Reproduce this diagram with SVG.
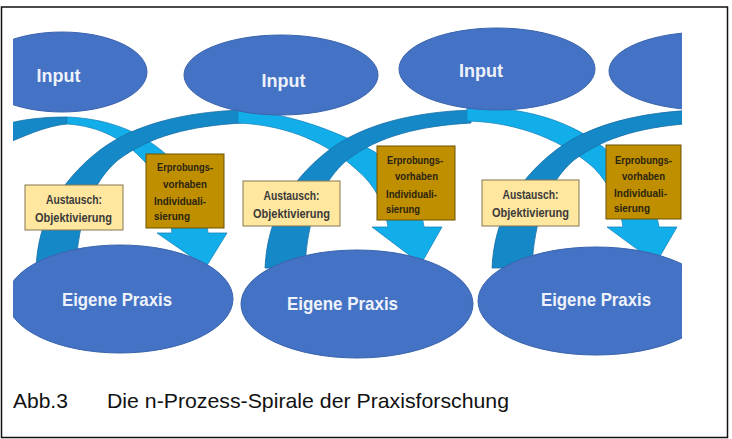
<svg xmlns="http://www.w3.org/2000/svg" width="732" height="439" viewBox="0 0 732 439">
<style>
.ell{fill:#4472c4;stroke:#3b64ad;stroke-width:1}
.elt{font-family:"Liberation Sans",Arial,sans-serif;font-weight:bold;fill:#eef2fa;text-anchor:middle}
.dk{fill:#1588c8;stroke:#166fa6;stroke-width:0.8}
.lt{fill:#12aeea;stroke:#1685bf;stroke-width:0.8}
.aus{fill:#ffe79f;stroke:#857650;stroke-width:1}
.erp{fill:#bf8f00;stroke:#6e5200;stroke-width:1}
.bt{font-family:"Liberation Sans",Arial,sans-serif;font-weight:bold;font-size:12px;fill:#3a3a3a;text-anchor:middle}
.et{font-family:"Liberation Sans",Arial,sans-serif;font-weight:bold;font-size:10px;fill:#2b2410}
.cap{font-family:"Liberation Sans",Arial,sans-serif;font-size:21px;fill:#111}
</style>
<defs>
<clipPath id="pic"><rect x="13" y="0" width="669" height="380"/></clipPath>
</defs>
<rect x="0" y="0" width="732" height="439" fill="#fff"/>
<rect x="1.5" y="7" width="726" height="430.5" fill="none" stroke="#111" stroke-width="1.5"/>
<g clip-path="url(#pic)">
<g id="connectors">
<path class="dk" d="M0,126 C20,119 45,117 67,117 L67,124 C45,126 25,136 0,146 Z"/>
<path class="lt" d="M67,117 C95,118 125,125 150,142 C185,165 205,200 208,233 L227,233 L206,267 L157,233 L172,233 C170,205 160,180 145,162 C125,140 100,126 67,124 Z"/>
<path class="dk" d="M36,268 C38,225 55,185 100,150 C135,124 185,112 242,110 L242,123 C190,126 150,136 118,160 C92,182 78,220 76,268 Z"/>
<path class="lt" d="M238,110 C285,112 335,130 375,152 C405,175 420,200 424,227 L442,227 L421,264 L372,227 L388,227 C385,205 375,185 357,170 C330,145 290,125 238,123 Z"/>
<path class="dk" d="M265,268 C267,225 284,185 329,150 C364,124 414,112 471,110 L471,123 C419,126 379,136 347,160 C321,182 307,220 305,268 Z"/>
<path class="lt" d="M467,108 C515,106 565,117 603,147 C635,172 655,200 659,227 L677,227 L656,263 L607,227 L623,227 C620,205 610,185 594,168 C565,142 520,122 467,121 Z"/>
<path class="dk" d="M492,268 C494,225 511,185 556,150 C591,124 641,112 698,110 L698,123 C646,126 606,136 574,160 C548,182 534,220 532,268 Z"/>
</g>
<g id="input1"><ellipse class="ell" cx="62" cy="72" rx="85" ry="40"/><text class="elt" x="58.5" y="82" font-size="18">Input</text></g>
<g id="input2"><ellipse class="ell" cx="281" cy="75" rx="97" ry="40"/><text class="elt" x="283.5" y="87" font-size="18">Input</text></g>
<g id="input3"><ellipse class="ell" cx="497" cy="69" rx="98" ry="41"/><text class="elt" x="481" y="77" font-size="18">Input</text></g>
<g id="input4"><ellipse class="ell" cx="705" cy="71" rx="96" ry="39"/></g>
<g id="praxis1"><ellipse class="ell" cx="120" cy="299" rx="113" ry="54"/><text class="elt" x="117" y="306" font-size="19" textLength="110" lengthAdjust="spacingAndGlyphs">Eigene Praxis</text></g>
<g id="praxis2"><ellipse class="ell" cx="357" cy="304" rx="116" ry="54"/><text class="elt" x="342.5" y="310" font-size="19" textLength="111" lengthAdjust="spacingAndGlyphs">Eigene Praxis</text></g>
<g id="praxis3"><ellipse class="ell" cx="596" cy="301" rx="118" ry="54"/><text class="elt" x="596" y="306" font-size="19" textLength="110" lengthAdjust="spacingAndGlyphs">Eigene Praxis</text></g>
<g id="austausch1"><rect class="aus" x="25" y="185" width="98" height="45"/><text class="bt" x="74" y="204" textLength="56" lengthAdjust="spacingAndGlyphs">Austausch:</text><text class="bt" x="73.5" y="222" textLength="77" lengthAdjust="spacingAndGlyphs">Objektivierung</text></g>
<g id="austausch2"><rect class="aus" x="243" y="181" width="97" height="45"/><text class="bt" x="291.5" y="200" textLength="56" lengthAdjust="spacingAndGlyphs">Austausch:</text><text class="bt" x="291.5" y="218" textLength="77" lengthAdjust="spacingAndGlyphs">Objektivierung</text></g>
<g id="austausch3"><rect class="aus" x="482" y="180" width="97" height="46"/><text class="bt" x="530.5" y="199" textLength="56" lengthAdjust="spacingAndGlyphs">Austausch:</text><text class="bt" x="530.5" y="217" textLength="77" lengthAdjust="spacingAndGlyphs">Objektivierung</text></g>
<g id="erprobung1"><rect class="erp" x="146" y="154" width="78" height="74"/>
<text class="et" x="157" y="171" textLength="56" lengthAdjust="spacingAndGlyphs">Erprobungs-</text>
<text class="et" x="163" y="188" textLength="44" lengthAdjust="spacingAndGlyphs">vorhaben</text>
<text class="et" x="154" y="205" textLength="52" lengthAdjust="spacingAndGlyphs">Individuali-</text>
<text class="et" x="154" y="220" textLength="36" lengthAdjust="spacingAndGlyphs">sierung</text></g>
<g id="erprobung2"><rect class="erp" x="377" y="146" width="78" height="74"/>
<text class="et" x="387" y="164" textLength="56" lengthAdjust="spacingAndGlyphs">Erprobungs-</text>
<text class="et" x="395" y="180" textLength="43" lengthAdjust="spacingAndGlyphs">vorhaben</text>
<text class="et" x="386" y="198" textLength="51" lengthAdjust="spacingAndGlyphs">Individuali-</text>
<text class="et" x="386" y="213" textLength="34" lengthAdjust="spacingAndGlyphs">sierung</text></g>
<g id="erprobung3"><rect class="erp" x="606" y="145" width="75" height="74"/>
<text class="et" x="615" y="164" textLength="57" lengthAdjust="spacingAndGlyphs">Erprobungs-</text>
<text class="et" x="622" y="180" textLength="43" lengthAdjust="spacingAndGlyphs">vorhaben</text>
<text class="et" x="614" y="197" textLength="53" lengthAdjust="spacingAndGlyphs">Individuali-</text>
<text class="et" x="614" y="212" textLength="36" lengthAdjust="spacingAndGlyphs">sierung</text></g>
</g>
<g id="caption">
<text class="cap" x="13" y="408">Abb.3</text>
<text class="cap" x="107" y="408" textLength="402" lengthAdjust="spacingAndGlyphs">Die n-Prozess-Spirale der Praxisforschung</text>
</g>
</svg>
